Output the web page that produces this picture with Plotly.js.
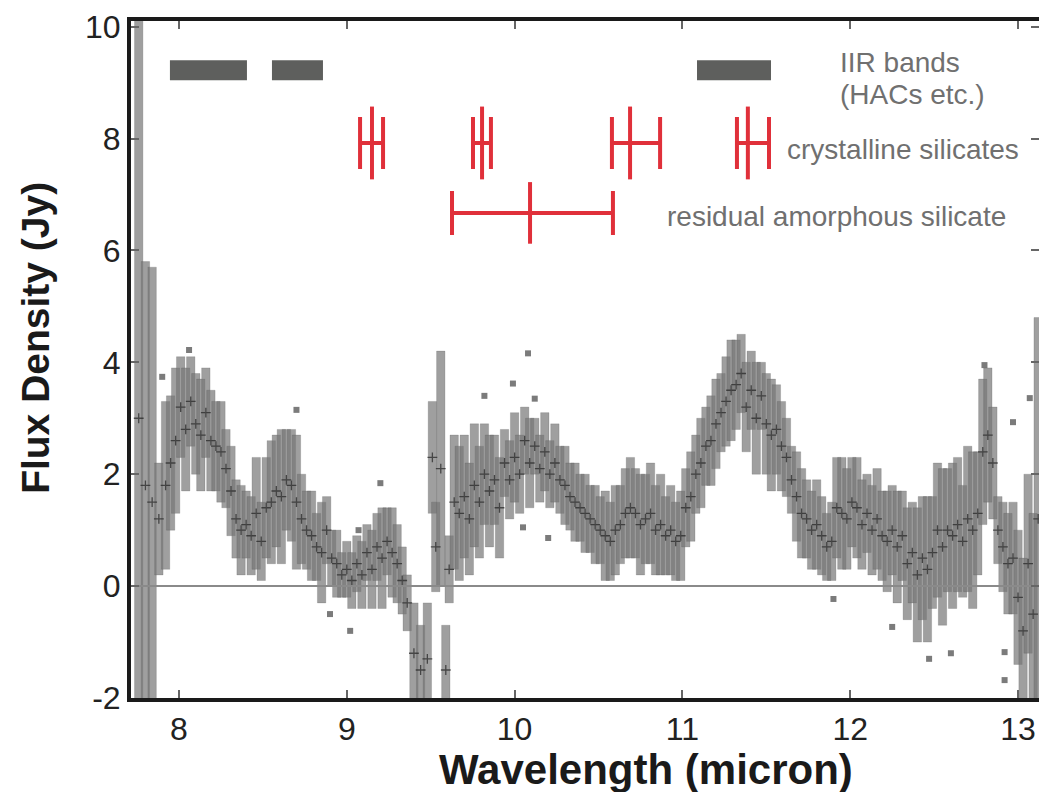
<!DOCTYPE html>
<html><head><meta charset="utf-8">
<script src="https://cdn.plot.ly/plotly-3.0.1.min.js"></script>
<style>html,body{margin:0;padding:0;background:#fff;}#chart{width:1039px;height:792px;}</style>
</head><body><div id="chart"></div>
<script>
// Spectrum: wavelength (micron), flux density (Jy), 1-sigma error (Jy)
const wavelength = [7.76,7.80,7.84,7.88,7.92,7.95,7.98,8.01,8.04,8.07,8.10,8.13,8.16,8.19,8.22,8.25,8.28,8.31,8.34,8.37,8.40,8.43,8.46,8.49,8.52,8.55,8.58,8.61,8.64,8.67,8.70,8.73,8.76,8.79,8.82,8.85,8.88,8.91,8.94,8.97,9.00,9.03,9.06,9.09,9.12,9.15,9.18,9.21,9.24,9.27,9.30,9.33,9.36,9.40,9.44,9.48,9.51,9.53,9.56,9.59,9.61,9.64,9.67,9.70,9.73,9.76,9.79,9.82,9.85,9.88,9.91,9.94,9.97,10.00,10.03,10.06,10.09,10.12,10.15,10.18,10.21,10.24,10.27,10.30,10.33,10.36,10.39,10.42,10.45,10.48,10.51,10.54,10.57,10.60,10.63,10.66,10.69,10.72,10.75,10.78,10.81,10.84,10.87,10.90,10.93,10.96,10.99,11.02,11.05,11.08,11.11,11.14,11.17,11.20,11.23,11.26,11.29,11.32,11.35,11.38,11.41,11.44,11.47,11.50,11.53,11.56,11.59,11.62,11.65,11.68,11.71,11.74,11.77,11.80,11.83,11.86,11.89,11.92,11.95,11.98,12.01,12.04,12.07,12.10,12.13,12.16,12.19,12.22,12.25,12.28,12.31,12.34,12.37,12.40,12.43,12.46,12.49,12.52,12.55,12.58,12.61,12.64,12.67,12.70,12.73,12.76,12.79,12.82,12.85,12.88,12.91,12.94,12.97,13.00,13.03,13.06,13.09,13.12];
const flux = [3.0,1.8,1.5,1.2,1.8,2.2,2.6,3.2,2.8,3.3,2.9,2.7,3.1,2.6,2.5,2.4,2.1,1.7,1.2,1.0,1.1,0.9,1.3,0.8,1.4,1.5,1.7,1.6,1.9,1.8,1.5,1.2,1.0,0.9,0.7,0.6,1.0,0.5,0.4,0.2,0.3,0.1,0.4,0.2,0.6,0.3,0.7,0.5,0.8,0.6,0.4,0.1,-0.3,-1.2,-1.5,-1.3,2.3,0.7,2.1,-1.5,0.3,1.5,1.3,1.6,1.2,1.8,1.5,2.0,1.7,1.9,1.4,2.2,1.9,2.3,2.0,2.6,2.2,2.5,2.1,2.4,2.0,2.2,1.9,1.8,1.6,1.5,1.4,1.3,1.2,1.1,1.0,0.9,0.8,1.0,1.1,1.3,1.4,1.3,1.1,1.2,1.3,1.0,1.1,0.9,1.0,0.8,0.9,1.4,1.6,2.0,2.2,2.5,2.6,2.9,3.1,3.3,3.5,3.6,3.8,3.2,3.5,3.0,3.4,2.9,2.7,2.8,2.5,2.3,1.9,1.6,1.3,1.2,1.0,1.1,0.9,0.7,0.8,1.4,1.3,1.2,1.5,1.4,1.1,1.3,1.0,1.2,0.9,0.8,1.0,0.7,0.9,0.4,0.6,0.2,0.5,0.3,0.6,1.0,0.7,1.0,0.9,1.1,0.8,1.2,1.0,1.3,2.4,2.7,2.2,1.0,0.7,0.4,0.5,-0.2,-0.8,0.4,-0.5,1.2];
const fluxErr = [7.5,4.0,4.2,1.0,1.5,1.2,1.3,0.9,1.1,0.8,0.9,1.0,0.8,0.9,0.8,0.9,0.7,0.8,0.7,0.8,0.6,0.7,1.0,0.7,0.9,1.1,1.0,1.2,0.9,1.0,1.2,0.8,0.7,0.8,0.6,0.9,0.6,0.5,0.6,0.4,0.5,0.5,0.5,0.6,0.5,0.7,0.6,0.9,0.6,0.8,0.7,0.6,0.5,0.9,0.8,1.0,1.0,0.8,2.1,0.8,0.6,1.2,1.2,1.1,1.0,1.1,1.0,0.9,1.0,0.8,0.9,0.6,0.7,0.8,0.7,0.6,0.8,0.5,0.6,0.7,0.6,0.7,0.6,0.7,0.6,0.7,0.6,0.7,0.6,0.7,0.6,0.8,0.7,0.8,0.7,0.8,0.9,0.8,0.9,0.8,0.9,0.8,0.9,0.7,0.8,0.7,0.8,0.7,0.8,0.7,0.8,0.7,0.8,0.8,0.7,0.8,0.9,0.8,0.7,0.8,0.7,1.0,0.6,0.9,1.0,0.8,0.8,0.7,0.6,0.8,0.8,0.7,0.7,0.8,0.7,0.6,0.7,0.9,1.0,0.9,0.8,0.9,0.8,0.7,0.8,0.9,0.8,0.9,0.8,1.0,0.8,1.0,0.9,1.2,1.1,1.3,1.0,1.2,1.4,1.1,1.3,1.2,1.0,1.3,1.4,1.1,1.3,1.2,1.0,0.6,0.8,0.9,1.0,1.2,1.3,1.6,1.8,3.6];

// Isolated measurements
const strayWavelength = [7.90,8.06,8.70,8.90,9.02,9.07,9.20,9.82,9.99,10.05,10.08,10.12,10.20,11.90,12.25,12.47,12.60,12.80,12.92,12.92,12.97,13.07];
const strayFlux = [3.74,4.22,3.15,-0.5,-0.8,1.0,1.84,3.4,3.62,1.05,4.16,3.35,0.86,-0.23,-0.73,-1.3,-1.2,3.95,-1.18,-1.68,2.93,3.36];

// Feature markers
const iirStart = [7.946,8.554,11.087];
const iirEnd = [8.405,8.858,11.528];
const iirLevel = 9.22;
const crystCenter = [9.150,9.806,10.688,11.390];
const crystMinus = [0.071,0.054,0.108,0.065];
const crystPlus = [0.066,0.053,0.179,0.126];
const crystLevel = 7.92;
const amorphCenter = [10.092];
const amorphMinus = [0.465];
const amorphPlus = [0.494];
const amorphLevel = 6.67;

const labels = [
  {text:'IIR bands', x:11.927, y:9.35},
  {text:'(HACs etc.)', x:11.927, y:8.79},
  {text:'crystalline silicates', x:11.61, y:7.81},
  {text:'residual amorphous silicate', x:10.896, y:6.6}
];

const traces = [];
traces.push({
  type:'bar', x:wavelength,
  y:fluxErr.map(e=>2*e),
  base:flux.map((f,i)=>f-fluxErr[i]),
  width:0.05,
  marker:{color:'rgba(118,118,118,0.7)', line:{color:'rgba(80,80,80,0.35)', width:0.6}},
  showlegend:false, hoverinfo:'skip'
});
traces.push({
  type:'scatter', mode:'markers', x:wavelength, y:flux,
  marker:{symbol:'cross-thin', size:7, line:{color:'rgba(40,40,40,0.75)', width:1.3}},
  showlegend:false, hoverinfo:'skip'
});
traces.push({
  type:'scatter', mode:'markers', x:strayWavelength, y:strayFlux,
  marker:{symbol:'square', size:6, color:'rgba(90,90,90,0.8)'},
  showlegend:false, hoverinfo:'skip'
});
for (let i=0;i<iirStart.length;i++){
  traces.push({type:'scatter', mode:'lines', x:[iirStart[i],iirEnd[i]], y:[iirLevel,iirLevel],
    line:{color:'#5e5f5d', width:20}, showlegend:false, hoverinfo:'skip'});
}
traces.push({
  type:'scatter', mode:'markers', x:crystCenter, y:crystCenter.map(()=>crystLevel),
  marker:{symbol:'line-ns', size:52, line:{color:'#e0303a', width:4}},
  error_x:{type:'data', symmetric:false, array:crystPlus, arrayminus:crystMinus, color:'#e0303a', thickness:4, width:26},
  showlegend:false, hoverinfo:'skip'
});
traces.push({
  type:'scatter', mode:'markers', x:amorphCenter, y:[amorphLevel],
  marker:{symbol:'line-ns', size:44, line:{color:'#e0303a', width:4}},
  error_x:{type:'data', symmetric:false, array:amorphPlus, arrayminus:amorphMinus, color:'#e0303a', thickness:4, width:22},
  showlegend:false, hoverinfo:'skip'
});

const annotations = labels.map(l=>({x:l.x, y:l.y, xref:'x', yref:'y', text:l.text, showarrow:false,
  xanchor:'left', yanchor:'middle', font:{family:'Liberation Sans, Arial, sans-serif', size:28, color:'#707070'}}));
annotations.push({xref:'paper', yref:'paper', x:0.567, y:-0.106, text:'Wavelength (micron)', showarrow:false,
  xanchor:'center', yanchor:'middle', font:{family:'Liberation Sans, Arial, sans-serif', size:42, color:'#1a1a1a', weight:'bold'}});
annotations.push({xref:'paper', yref:'paper', x:-0.1046, y:0.532, text:'Flux Density (Jy)', showarrow:false, textangle:-90,
  xanchor:'center', yanchor:'middle', font:{family:'Liberation Sans, Arial, sans-serif', size:39, color:'#1a1a1a', weight:'bold'}});

const tickFont = {family:'Liberation Sans, Arial, sans-serif', size:32, color:'#222'};
const layout = {
  width:1039, height:792,
  margin:{l:131, r:0, t:21, b:94, pad:0},
  paper_bgcolor:'#fff', plot_bgcolor:'#fff',
  barmode:'overlay', bargap:0,
  showlegend:false,
  xaxis:{range:[7.714,13.125], tickvals:[8,9,10,11,12,13], ticktext:['8','9','10','11','12','13'],
    showgrid:false, zeroline:false, showline:true, linewidth:4, linecolor:'#1a1a1a', mirror:'ticks',
    ticks:'inside', ticklen:8, tickwidth:2, tickcolor:'#666', tickfont:tickFont, layer:'above traces'},
  yaxis:{range:[-2,10.1], tickvals:[-2,0,2,4,6,8,10], ticktext:['-2','0','2','4','6','8','10'],
    showgrid:false, zeroline:true, zerolinecolor:'#8a8a8a', zerolinewidth:2, zerolinelayer:'above traces',
    showline:true, linewidth:4, linecolor:'#1a1a1a', mirror:'ticks',
    ticks:'inside', ticklen:8, tickwidth:2, tickcolor:'#666', tickfont:tickFont, layer:'above traces'},
  annotations:annotations
};
Plotly.newPlot('chart', traces, layout, {staticPlot:true, displayModeBar:false});
</script></body></html>
